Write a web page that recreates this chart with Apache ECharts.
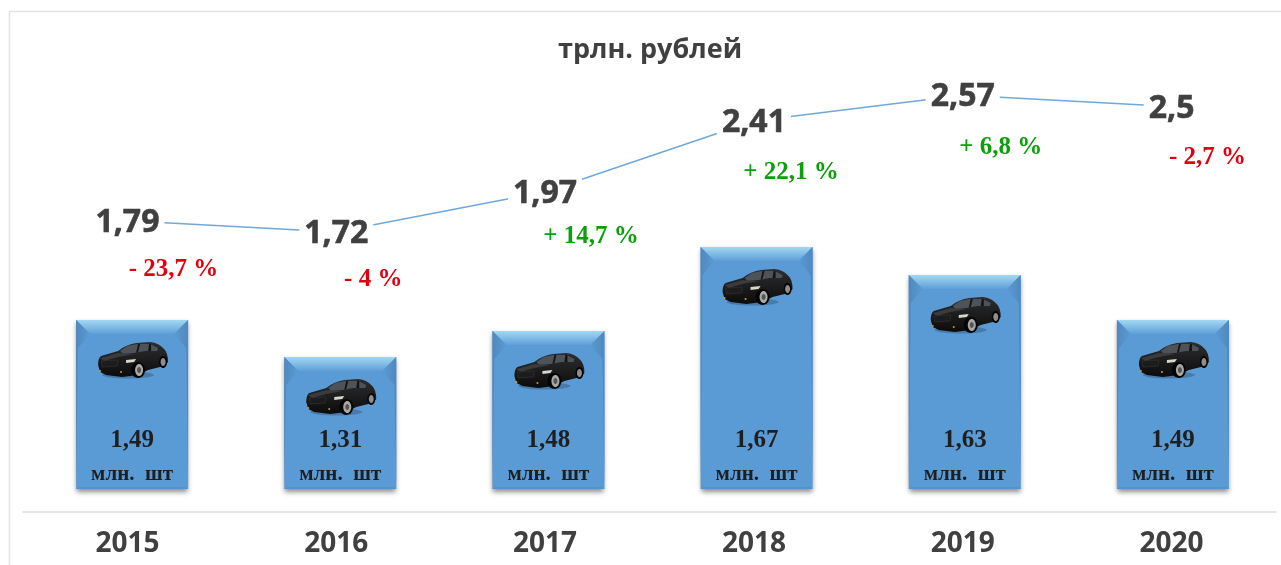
<!DOCTYPE html>
<html>
<head>
<meta charset="utf-8">
<title>трлн. рублей</title>
<script src="https://cdn.jsdelivr.net/npm/echarts@6/dist/echarts.min.js"></script>
<style>
  html, body { margin: 0; padding: 0; background: #fff; }
  #chart { width: 1281px; height: 565px; }
</style>
</head>
<body>
<div id="chart"></div>
<script>
const years = ['2015', '2016', '2017', '2018', '2019', '2020'];
// трлн. рублей
const turnover = [1.79, 1.72, 1.97, 2.41, 2.57, 2.5];
// bar heights as drawn in the picture, they don't follow the printed numbers exactly
const barLevels = [1.69, 1.32, 1.58, 2.42, 2.14, 1.69];
const unitsLabels = ['1,49', '1,31', '1,48', '1,67', '1,63', '1,49'];
const changeLabels = ['- 23,7 %', '- 4 %', '+ 14,7 %', '+ 22,1 %', '+ 6,8 %', '- 2,7 %'];

const chart = echarts.init(document.getElementById('chart'));

const BAR_W = 112;
const BEVEL = 14;

const lin = (x0, y0, x1, y1, c0, c1) =>
  new echarts.graphic.LinearGradient(x0, y0, x1, y1, [
    { offset: 0, color: c0 },
    { offset: 1, color: c1 },
  ]);

// bevelled edges of one bar
const bevelParts = (x, top, bottom) => {
  const l = x - BAR_W / 2;
  const r = x + BAR_W / 2;
  const poly = (points, fill) => ({ type: 'polygon', shape: { points }, style: { fill }, silent: true });
  return [
    poly([[l, top], [r, top], [r - BEVEL, top + BEVEL], [l + BEVEL, top + BEVEL]],
      lin(0, 0, 0, 1, '#a3d8f2', '#5f9fd8')),
    poly([[l, top], [l + BEVEL, top + BEVEL], [l + 2, top + 28], [l, bottom]],
      lin(0, 0, 1, 0, '#5088bd', '#5b9bd5')),
    poly([[r, top], [r - BEVEL, top + BEVEL], [r - 2, top + 28], [r, bottom]],
      lin(1, 0, 0, 0, '#5088bd', '#5b9bd5')),
    poly([[l, bottom], [r, bottom], [r - 2, bottom - 2], [l + 2, bottom - 2]], '#5592cb'),
  ];
};

// small black sedan, local box is 70 x 36
const carParts = (x, y) => ({
  type: 'group',
  x,
  y,
  silent: true,
  children: [
    { type: 'ellipse', shape: { cx: 30, cy: 33, rx: 26, ry: 3.5 }, style: { fill: 'rgba(25,50,80,0.3)' } },
    {
      type: 'path',
      shape: {
        pathData: 'M0 23 Q0 16 3 14 L20 9 Q27 3 38 1 L52 0 Q61 1 66 7 Q70 11 70 20 L66 24 L50 28 L40 33 L24 35 L8 33 L2 30 Z',
        x: 0, y: 0, width: 70, height: 35,
      },
      style: { fill: lin(0, 0, 0, 1, '#2e2e30', '#0b0b0c') },
    },
    { type: 'polygon', shape: { points: [[22, 9], [29, 4], [39, 2], [52, 2], [60, 6], [59, 9], [47, 9], [36, 11], [25, 12]] }, style: { fill: '#4d5358' } },
    { type: 'polygon', shape: { points: [[40, 2], [42, 2], [40, 10], [38, 11]] }, style: { fill: '#141414' } },
    { type: 'polygon', shape: { points: [[51, 2], [53, 2], [53, 9], [50, 9]] }, style: { fill: '#141414' } },
    { type: 'polygon', shape: { points: [[2, 16], [20, 11], [36, 12], [20, 15], [6, 19]] }, style: { fill: '#3b3b3d' } },
    { type: 'polygon', shape: { points: [[28, 18], [38, 17], [36, 20], [28, 21]] }, style: { fill: '#d8d8c8' } },
    { type: 'polygon', shape: { points: [[3, 19], [20, 18], [19, 24], [4, 25]] }, style: { fill: '#1c1c1c', stroke: '#3a3a3a', lineWidth: 0.5 } },
    { type: 'circle', shape: { cx: 2, cy: 29, r: 1 }, style: { fill: '#c8a030' } },
    { type: 'circle', shape: { cx: 23, cy: 30, r: 1 }, style: { fill: '#c8a030' } },
    { type: 'ellipse', shape: { cx: 40, cy: 28, rx: 7, ry: 8 }, style: { fill: '#050505' } },
    { type: 'ellipse', shape: { cx: 41, cy: 28, rx: 4, ry: 6 }, style: { fill: '#a8a8a8' } },
    { type: 'ellipse', shape: { cx: 41, cy: 28, rx: 2, ry: 3 }, style: { fill: '#555' } },
    { type: 'ellipse', shape: { cx: 65, cy: 20, rx: 4, ry: 6 }, style: { fill: '#050505' } },
    { type: 'ellipse', shape: { cx: 65, cy: 20, rx: 2.5, ry: 4 }, style: { fill: '#8e8e8e' } },
  ],
});

const changeOffset = [[46, 49], [37, 47], [46, 45], [37, 52], [38, 52], [36, 51]];

const option = {
  animation: false,
  backgroundColor: '#fff',
  title: {
    text: 'трлн. рублей',
    left: 553,
    top: 32,
    textStyle: { fontFamily: 'Open Sans', fontWeight: 700, fontSize: 27, color: '#404040' },
  },
  graphic: [
    { type: 'polyline', silent: true, shape: { points: [[9.5, 565], [9.5, 11.5], [1281, 11.5]] }, style: { fill: 'none', stroke: '#e2e2e2', lineWidth: 1.5 } },
  ],
  grid: [
    { left: 28, right: 4, top: 89, bottom: 76 },
    { left: 23, right: 5, top: 26, bottom: 56 },
  ],
  xAxis: [
    { type: 'category', gridIndex: 0, data: years, show: false },
    {
      type: 'category',
      gridIndex: 1,
      data: years,
      offset: 3,
      axisLine: { onZero: false, lineStyle: { color: '#dcdcdc', width: 1.5 } },
      axisTick: { show: false },
      axisLabel: { margin: 18, fontFamily: 'Open Sans', fontWeight: 700, fontSize: 28, color: '#404040' },
    },
  ],
  yAxis: [
    { type: 'value', gridIndex: 0, min: 0, max: 4, show: false },
    { type: 'value', gridIndex: 1, min: 0, max: 3, show: false },
  ],
  series: [
    {
      name: 'млн. шт',
      type: 'bar',
      xAxisIndex: 0,
      yAxisIndex: 0,
      barWidth: BAR_W,
      data: barLevels,
      z: 2,
      itemStyle: {
        color: '#5b9bd5',
        shadowBlur: 5,
        shadowOffsetY: 3,
        shadowColor: 'rgba(0,0,0,0.45)',
      },
      label: {
        show: true,
        position: 'insideBottom',
        distance: 1,
        formatter: (p) => `{v|${unitsLabels[p.dataIndex]}}\n{u|млн.  шт}`,
        rich: {
          v: { fontFamily: 'Liberation Serif', fontWeight: 700, fontSize: 25, color: '#1f1f1f', lineHeight: 42 },
          u: { fontFamily: 'Liberation Serif', fontWeight: 700, fontSize: 21, color: '#1f1f1f', lineHeight: 26 },
        },
      },
    },
    {
      name: 'bevel',
      type: 'custom',
      xAxisIndex: 0,
      yAxisIndex: 0,
      z: 3,
      data: barLevels,
      silent: true,
      renderItem: (params, api) => {
        const top = api.coord([api.value(0), api.value(1)]);
        const bottom = api.coord([api.value(0), 0]);
        return {
          type: 'group',
          children: [
            ...bevelParts(top[0], top[1], bottom[1]),
            carParts(top[0] - 34, top[1] + 22),
          ],
        };
      },
      encode: { x: 0, y: 1 },
    },
    {
      name: 'трлн. рублей',
      type: 'line',
      xAxisIndex: 1,
      yAxisIndex: 1,
      z: 4,
      data: turnover,
      symbol: 'circle',
      symbolSize: 1,
      itemStyle: { color: '#ffffff' },
      lineStyle: { color: '#6ea8dc', width: 1.5 },
      label: {
        show: true,
        position: 'inside',
        offset: [0, 2],
        formatter: (p) => String(p.value).replace('.', ','),
        fontFamily: 'Open Sans',
        fontWeight: 700,
        fontSize: 32,
        color: '#404040',
        textBorderColor: '#404040',
        textBorderWidth: 0.6,
        backgroundColor: '#fff',
        padding: [0, 5],
      },
    },
    {
      name: 'изменение',
      type: 'line',
      xAxisIndex: 1,
      yAxisIndex: 1,
      z: 5,
      symbol: 'circle',
      symbolSize: 1,
      itemStyle: { color: 'rgba(255,255,255,0)' },
      lineStyle: { opacity: 0 },
      data: turnover.map((v, i) => ({
        value: v,
        label: {
          show: true,
          position: 'inside',
          offset: changeOffset[i],
          formatter: changeLabels[i],
          fontFamily: 'Liberation Serif',
          fontWeight: 700,
          fontSize: 25,
          color: changeLabels[i][0] === '+' ? '#0aa00a' : '#e00010',
        },
      })),
    },
  ],
};

chart.setOption(option);
</script>
</body>
</html>
